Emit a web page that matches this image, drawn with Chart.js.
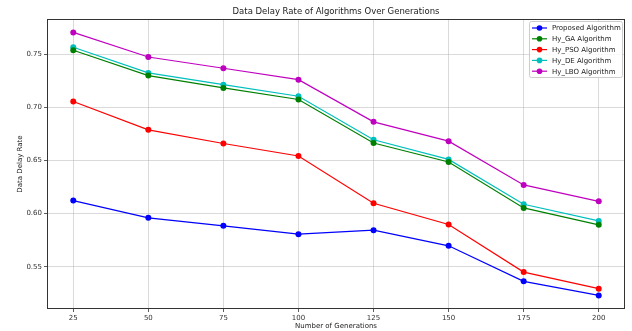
<!DOCTYPE html>
<html>
<head>
<meta charset="utf-8">
<script src="https://cdn.jsdelivr.net/npm/chart.js@4"></script>
<style>
  html, body { margin: 0; padding: 0; background: #fff; }
  #wrap { width: 632px; height: 331px; }
</style>
</head>
<body>
<div id="wrap"><canvas id="delayChart"></canvas></div>
<script>
const generations = [25, 50, 75, 100, 125, 150, 175, 200];
const proposed = [0.6122, 0.5960, 0.5885, 0.5806, 0.5844, 0.5697, 0.5363, 0.5231];
const hyGA     = [0.7535, 0.7297, 0.7181, 0.7072, 0.6663, 0.6485, 0.6053, 0.5894];
const hyPSO    = [0.7053, 0.6787, 0.6659, 0.6541, 0.6097, 0.5897, 0.5450, 0.5294];
const hyDE     = [0.7563, 0.7322, 0.7212, 0.7103, 0.6694, 0.6509, 0.6088, 0.5931];
const hyLBO    = [0.7703, 0.7472, 0.7366, 0.7259, 0.6862, 0.6681, 0.6269, 0.6115];
const yTicks = [0.55, 0.60, 0.65, 0.70, 0.75];

const FONT = "'DejaVu Sans', sans-serif";

const series = [
  { label: "Proposed Algorithm", values: proposed, color: "#0000ff" },
  { label: "Hy_GA Algorithm", values: hyGA, color: "#008000" },
  { label: "Hy_PSO Algorithm", values: hyPSO, color: "#ff0000" },
  { label: "Hy_DE Algorithm", values: hyDE, color: "#00bfbf" },
  { label: "Hy_LBO Algorithm", values: hyLBO, color: "#bf00bf" }
];

// frame, title and in-axes legend, matplotlib style
const decorations = {
  id: "decorations",
  afterDraw(chart) {
    const { ctx, chartArea: a } = chart;
    ctx.save();
    ctx.strokeStyle = "#333";
    ctx.lineWidth = 1;
    ctx.strokeRect(Math.round(a.left) + 0.5, Math.round(a.top) + 0.5,
      Math.round(a.right - a.left) - 1, Math.round(a.bottom - a.top) - 1);

    ctx.fillStyle = "#222";
    ctx.font = "8.5px " + FONT;
    ctx.textAlign = "center";
    ctx.textBaseline = "middle";
    ctx.fillText("Data Delay Rate of Algorithms Over Generations", (a.left + a.right) / 2, 12);

    // legend
    const boxW = 93, rowH = 10.8;
    const boxX = a.right - 96, boxY = a.top + 2;
    const boxH = rowH * series.length + 2;
    ctx.fillStyle = "rgba(255,255,255,0.85)";
    ctx.strokeStyle = "#cccccc";
    ctx.beginPath();
    ctx.roundRect(boxX + 0.5, boxY + 0.5, boxW, boxH, 2);
    ctx.fill();
    ctx.stroke();
    ctx.font = "7px " + FONT;
    ctx.textAlign = "left";
    series.forEach((s, i) => {
      const y = boxY + 7 + i * rowH;
      ctx.strokeStyle = s.color;
      ctx.lineWidth = 1.2;
      ctx.beginPath();
      ctx.moveTo(boxX + 3, y);
      ctx.lineTo(boxX + 18, y);
      ctx.stroke();
      ctx.fillStyle = s.color;
      ctx.beginPath();
      ctx.arc(boxX + 10.5, y, 2.8, 0, Math.PI * 2);
      ctx.fill();
      ctx.fillStyle = "#222";
      ctx.fillText(s.label, boxX + 23, y + 0.5);
    });
    ctx.restore();
  }
};

new Chart(document.getElementById("delayChart"), {
  type: "line",
  data: {
    datasets: series.map(s => ({
      label: s.label,
      data: generations.map((g, i) => ({ x: g, y: s.values[i] })),
      borderColor: s.color,
      backgroundColor: s.color,
      borderWidth: 1.2,
      pointRadius: 3,
      pointBorderWidth: 0,
      tension: 0,
      fill: false
    }))
  },
  options: {
    responsive: true,
    maintainAspectRatio: false,
    animation: false,
    events: [],
    layout: { padding: { top: 19, right: 7, left: 0, bottom: 0 } },
    plugins: {
      legend: { display: false },
      title: { display: false },
      tooltip: { enabled: false }
    },
    scales: {
      x: {
        type: "linear",
        min: 16.25,
        max: 208.75,
        afterBuildTicks: scale => { scale.ticks = generations.map(v => ({ value: v })); },
        afterFit: scale => { scale.height = 22; },
        grid: {
          color: "rgba(176,176,176,0.6)",
          lineWidth: 0.8,
          tickColor: "#333",
          tickLength: 3
        },
        border: { display: false },
        ticks: {
          color: "#333",
          font: { family: FONT, size: 7 },
          padding: 2,
          maxRotation: 0,
          callback: v => String(v)
        },
        title: {
          display: true,
          text: "Number of Generations",
          color: "#222",
          font: { family: FONT, size: 7 },
          padding: { top: 0, bottom: 1 }
        }
      },
      y: {
        min: 0.5103,
        max: 0.7829,
        afterBuildTicks: scale => { scale.ticks = yTicks.map(v => ({ value: v })); },
        afterFit: scale => { scale.width = 47; },
        grid: {
          color: "rgba(176,176,176,0.6)",
          lineWidth: 0.8,
          tickColor: "#333",
          tickLength: 3
        },
        border: { display: false },
        ticks: {
          color: "#333",
          font: { family: FONT, size: 7 },
          padding: 2,
          callback: v => v.toFixed(2)
        },
        title: {
          display: true,
          text: "Data Delay Rate",
          color: "#222",
          font: { family: FONT, size: 7 },
          padding: { top: 16, bottom: 0 }
        }
      }
    }
  },
  plugins: [decorations]
});
</script>
</body>
</html>
